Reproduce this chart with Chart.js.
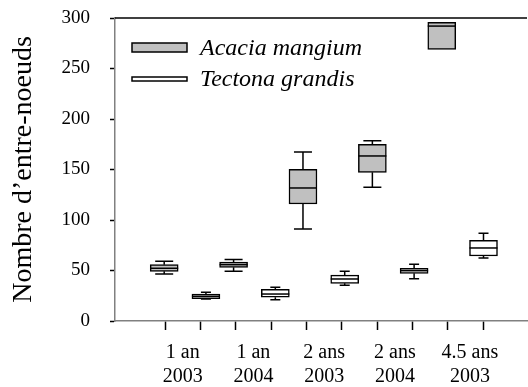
<!DOCTYPE html>
<html>
<head>
<meta charset="utf-8">
<script src="https://cdn.jsdelivr.net/npm/chart.js@4/dist/chart.umd.min.js"></script>
<style>
  body { margin: 0; background: #fff; }
  canvas { display: block; }
</style>
</head>
<body>
<canvas id="boxChart" width="528" height="387"></canvas>
<script>
// categories (age / year)
const categories = [['1 an', '2003'], ['1 an', '2004'], ['2 ans', '2003'], ['2 ans', '2004'], ['4.5 ans', '2003']];
const seriesNames = ['Acacia mangium', 'Tectona grandis'];
const yTicks = [0, 50, 100, 150, 200, 250, 300];

// Acacia mangium : min, q1, median, q3, max
const acaciaMin = [46.5, 49.2, 91, 132.4, 269];
const acaciaQ1 = [49.2, 53.1, 115.8, 147.2, 269];
const acaciaMed = [52.2, 55.8, 131.7, 163.4, 292];
const acaciaQ3 = [55.8, 58.4, 150.2, 174.9, 295.7];
const acaciaMax = [59.1, 61, 167.3, 178.5, 295.7];

// Tectona grandis : min, q1, median, q3, max
const tectonaMin = [21.8, 21.1, 35.3, 41.9, 62.4];
const tectonaQ1 = [22.2, 23.5, 37.3, 47.2, 64.4];
const tectonaMed = [24.5, 26.7, 41.6, 49.8, 72.3];
const tectonaQ3 = [26.7, 31.4, 45.5, 52.2, 79.9];
const tectonaMax = [28.4, 33.3, 49.2, 56.1, 86.8];

// layout on the x axis (tick units)
const acaciaPos = i => 0.977 + 1.962 * i;
const tectonaPos = i => acaciaPos(i) + 1.18;
const labelPos = [1.5, 3.5, 5.5, 7.5, 9.62];
const tickMarks = [1, 2, 3, 4, 5, 6, 7, 8, 9, 10];

const serif = 'Liberation Serif, Times New Roman, serif';

const acaciaBoxes = categories.map((c, i) => ({ x: acaciaPos(i), y: [acaciaQ1[i], acaciaQ3[i]] }));
const tectonaBoxes = categories.map((c, i) => ({ x: tectonaPos(i), y: [tectonaQ1[i], tectonaQ3[i]] }));

const stats = [
  { pos: acaciaPos, min: acaciaMin, med: acaciaMed, q1: acaciaQ1, q3: acaciaQ3, max: acaciaMax, cap: 18 },
  { pos: tectonaPos, min: tectonaMin, med: tectonaMed, q1: tectonaQ1, q3: tectonaQ3, max: tectonaMax, cap: 10 }
];

const boxPlugin = {
  id: 'boxParts',
  beforeDatasetsDraw(chart) {
    const { ctx, chartArea, scales: { x, y } } = chart;
    ctx.save();
    ctx.beginPath();
    ctx.rect(chartArea.left, chartArea.top, chartArea.width, chartArea.height);
    ctx.clip();
    ctx.strokeStyle = '#000';
    ctx.lineWidth = 1.5;
    stats.forEach(s => {
      categories.forEach((c, i) => {
        const px = x.getPixelForValue(s.pos(i));
        [[s.min[i], s.q1[i]], [s.max[i], s.q3[i]]].forEach(([end, edge]) => {
          if (end === edge) return;
          const pe = y.getPixelForValue(end);
          ctx.beginPath();
          ctx.moveTo(px, y.getPixelForValue(edge));
          ctx.lineTo(px, pe);
          ctx.moveTo(px - s.cap / 2, pe);
          ctx.lineTo(px + s.cap / 2, pe);
          ctx.stroke();
        });
      });
    });
    ctx.restore();
  },
  afterDatasetsDraw(chart) {
    const { ctx, chartArea, scales: { x, y } } = chart;
    ctx.save();
    ctx.strokeStyle = '#000';
    ctx.lineWidth = 1.5;
    stats.forEach(s => {
      categories.forEach((c, i) => {
        const px = x.getPixelForValue(s.pos(i));
        const py = y.getPixelForValue(s.med[i]);
        ctx.beginPath();
        ctx.moveTo(px - 14, py);
        ctx.lineTo(px + 14, py);
        ctx.stroke();
      });
    });
    // top frame line
    ctx.beginPath();
    ctx.moveTo(chartArea.left, chartArea.top);
    ctx.lineTo(chartArea.right, chartArea.top);
    ctx.stroke();

    // legend
    ctx.lineWidth = 1.5;
    ctx.fillStyle = '#c0c0c0';
    ctx.fillRect(132, 43, 55, 9);
    ctx.strokeRect(132, 43, 55, 9);
    ctx.fillStyle = '#fff';
    ctx.fillRect(132, 77, 55, 4);
    ctx.strokeRect(132, 77, 55, 4);
    ctx.fillStyle = '#000';
    ctx.font = 'italic 24px ' + serif;
    ctx.textBaseline = 'alphabetic';
    ctx.fillText(seriesNames[0], 200, 55);
    ctx.fillText(seriesNames[1], 200, 86);
    ctx.restore();
  }
};

new Chart(document.getElementById('boxChart'), {
  type: 'bar',
  data: {
    datasets: [
      {
        label: seriesNames[0],
        data: acaciaBoxes,
        backgroundColor: '#c0c0c0',
        borderColor: '#000',
        borderWidth: 1.5,
        borderSkipped: false,
        barThickness: 28,
        grouped: false
      },
      {
        label: seriesNames[1],
        data: tectonaBoxes,
        backgroundColor: '#fff',
        borderColor: '#000',
        borderWidth: 1.5,
        borderSkipped: false,
        barThickness: 28,
        grouped: false
      }
    ]
  },
  options: {
    responsive: false,
    animation: false,
    layout: { padding: { top: 18, right: 1, left: 0, bottom: 0 } },
    plugins: {
      legend: { display: false },
      tooltip: { enabled: false }
    },
    scales: {
      x: {
        type: 'linear',
        offset: false,
        min: -0.414,
        max: 11.235,
        afterBuildTicks: axis => {
          axis.ticks = tickMarks.concat(labelPos).sort((a, b) => a - b).map(v => ({ value: v }));
        },
        afterFit: axis => {
          axis.height = 66;
          axis.paddingLeft = 0;
          axis.paddingRight = 0;
        },
        grid: {
          display: true,
          offset: false,
          drawOnChartArea: false,
          drawTicks: true,
          tickLength: 9,
          tickWidth: 1.5,
          tickColor: ctx => (ctx.tick && Number.isInteger(ctx.tick.value)) ? '#000' : 'rgba(0,0,0,0)'
        },
        border: { display: true, color: '#808080', width: 1.5 },
        ticks: {
          autoSkip: false,
          maxRotation: 0,
          padding: 11,
          color: '#000',
          font: { family: serif, size: 20, lineHeight: 1.2 },
          callback: value => {
            const k = labelPos.indexOf(value);
            return k >= 0 ? categories[k] : '';
          }
        }
      },
      y: {
        min: 0,
        max: 300,
        afterBuildTicks: axis => { axis.ticks = yTicks.map(v => ({ value: v })); },
        afterFit: axis => {
          axis.width = 115;
          axis.paddingTop = 0;
          axis.paddingBottom = 0;
        },
        grid: {
          display: true,
          drawOnChartArea: false,
          drawTicks: true,
          tickLength: 5,
          tickWidth: 1.5,
          tickColor: '#000'
        },
        border: { display: true, color: '#808080', width: 1.5 },
        ticks: {
          padding: 20,
          color: '#000',
          font: { family: serif, size: 19 }
        },
        title: {
          display: true,
          text: 'Nombre d\u2019entre-noeuds',
          color: '#000',
          padding: { top: 7, bottom: 4 },
          font: { family: serif, size: 28, lineHeight: 1.2 }
        }
      }
    }
  },
  plugins: [boxPlugin]
});
</script>
</body>
</html>
